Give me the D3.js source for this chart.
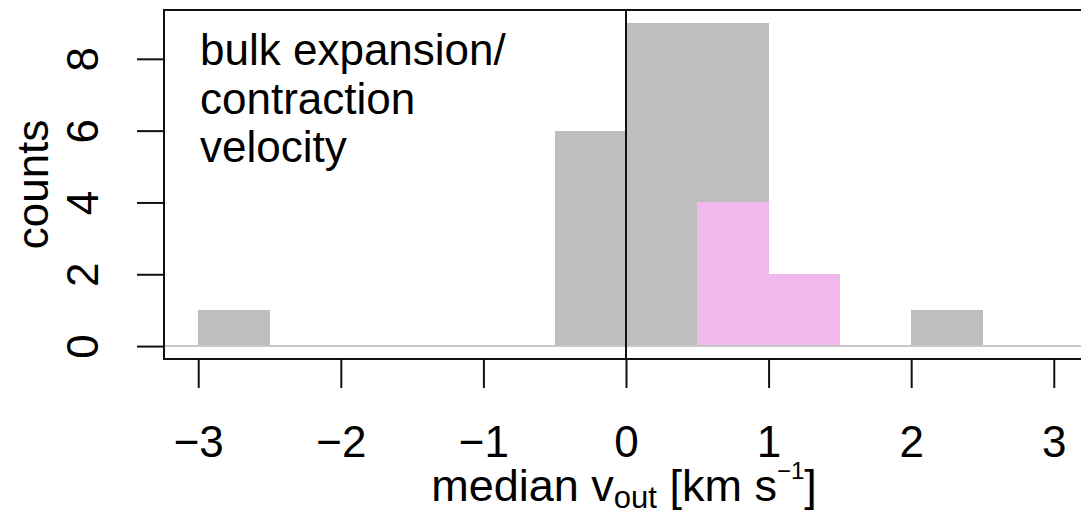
<!DOCTYPE html>
<html lang="en">
  <head>
    <meta charset="UTF-8" />
    <script src="https://d3js.org/d3.v7.min.js"></script>
    <title>median v_out histogram</title>
    <style>
      body { margin: 0; background: #fff; }
      text { font-family: "Liberation Sans", Arial, sans-serif; fill: #000; }
    </style>
  </head>

  <body>
    <script>
      // histogram bins (left edges, width 0.5)
      const binLeft = [-3, -2.5, -2, -1.5, -1, -0.5, 0, 0.5, 1, 1.5, 2, 2.5];
      const allCounts = [1, 0, 0, 0, 0, 6, 9, 9, 2, 0, 1, 0];
      const subsetCounts = [0, 0, 0, 0, 0, 0, 0, 4, 2, 0, 0, 0];
      const binWidth = 0.5;
      const xTicks = [-3, -2, -1, 0, 1, 2, 3];
      const yTicks = [0, 2, 4, 6, 8];
      const noteLines = ["bulk expansion/", "contraction", "velocity"];

      const width = 1081, height = 514;
      const svg = d3.select("body")
        .append("svg")
        .attr("width", width)
        .attr("height", height);

      const mLeft = 164, mRight = 1088, mTop = 10, mBottom = 359;

      const x = d3.scaleLinear().domain([-3.24, 3.24]).range([mLeft, mRight]);
      const y = d3.scaleLinear().domain([-0.36, 9.36]).range([mBottom, mTop]);

      const plot = svg.append("g").attr("shape-rendering", "crispEdges");

      const bins = binLeft.map((b, i) => ({ x0: b, all: allCounts[i], sub: subsetCounts[i] }));

      plot.selectAll("rect.all")
        .data(bins.filter((d) => d.all > 0))
        .join("rect")
        .attr("class", "all")
        .attr("x", (d) => x(d.x0))
        .attr("y", (d) => y(d.all))
        .attr("width", (d) => x(d.x0 + binWidth) - x(d.x0) + 0.5)
        .attr("height", (d) => y(0) - y(d.all))
        .attr("fill", "#bebebe");

      plot.selectAll("rect.sub")
        .data(bins.filter((d) => d.sub > 0))
        .join("rect")
        .attr("class", "sub")
        .attr("x", (d) => x(d.x0))
        .attr("y", (d) => y(d.sub))
        .attr("width", (d) => x(d.x0 + binWidth) - x(d.x0) + 0.5)
        .attr("height", (d) => y(0) - y(d.sub))
        .attr("fill", "#f0b8ec");

      // zero lines
      svg.append("line")
        .attr("x1", mLeft).attr("x2", mRight)
        .attr("y1", y(0)).attr("y2", y(0))
        .attr("stroke", "#c8c8c8").attr("stroke-width", 2);

      svg.append("line")
        .attr("x1", x(0)).attr("x2", x(0))
        .attr("y1", mTop).attr("y2", mBottom)
        .attr("stroke", "#111").attr("stroke-width", 2);

      // box
      svg.append("rect")
        .attr("x", mLeft).attr("y", mTop)
        .attr("width", mRight - mLeft).attr("height", mBottom - mTop)
        .attr("fill", "none").attr("stroke", "#111").attr("stroke-width", 2);

      // x axis
      const axisX = d3.axisBottom(x)
        .tickValues(xTicks)
        .tickSize(29)
        .tickPadding(0)
        .tickFormat((d) => (d < 0 ? "\u2212" + Math.abs(d) : d));
      const gx = svg.append("g").attr("transform", `translate(0,${mBottom})`);
      axisX(gx);
      gx.select(".domain").remove();
      gx.selectAll(".tick line").attr("stroke", "#111").attr("stroke-width", 2);
      gx.selectAll(".tick text")
        .attr("y", 98)
        .attr("dy", null)
        .attr("font-size", 44)
        .attr("font-family", "Liberation Sans, Arial, sans-serif")
        .attr("fill", "#000");

      // y axis
      const axisY = d3.axisLeft(y)
        .tickValues(yTicks)
        .tickSize(27)
        .tickFormat((d) => d);
      const gy = svg.append("g").attr("transform", `translate(${mLeft},0)`);
      axisY(gy);
      gy.select(".domain").remove();
      gy.selectAll(".tick line").attr("stroke", "#111").attr("stroke-width", 2);
      gy.selectAll(".tick text")
        .attr("x", null).attr("dy", null)
        .attr("transform", `translate(-66,0) rotate(-90)`)
        .attr("text-anchor", "middle")
        .attr("font-size", 44)
        .attr("font-family", "Liberation Sans, Arial, sans-serif")
        .attr("fill", "#000");

      // axis titles
      svg.append("text")
        .attr("transform", `translate(48,${(mTop + mBottom) / 2}) rotate(-90)`)
        .attr("text-anchor", "middle")
        .attr("font-size", 44)
        .text("counts");

      const xt = svg.append("text")
        .attr("x", 624).attr("y", 501)
        .attr("text-anchor", "middle")
        .attr("font-size", 45);
      xt.append("tspan").text("median v");
      xt.append("tspan").attr("font-size", 31).attr("dy", 7).text("out");
      xt.append("tspan").attr("dy", -7).text(" [km s");
      xt.append("tspan").attr("font-size", 24).attr("dy", -22).text("\u22121");
      xt.append("tspan").attr("dy", 22).text("]");

      // note
      svg.append("g").selectAll("text")
        .data(noteLines)
        .join("text")
        .attr("x", 200)
        .attr("y", (d, i) => 65 + i * 48.5)
        .attr("font-size", 44)
        .text((d) => d);
    </script>
  </body>
</html>
